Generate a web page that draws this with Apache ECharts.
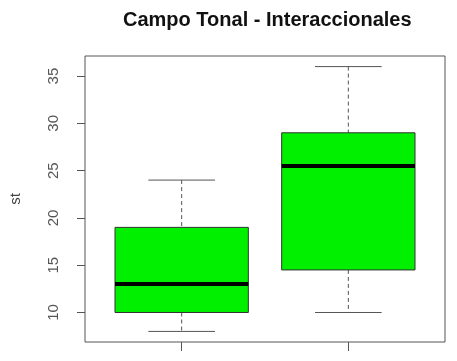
<!DOCTYPE html>
<html>
<head>
<meta charset="utf-8">
<script src="https://cdn.jsdelivr.net/npm/echarts@6/dist/echarts.min.js"></script>
<style>
  html, body { margin: 0; padding: 0; background: #fff; }
  #chart { width: 457px; height: 361px; }
</style>
</head>
<body>
<div id="chart"></div>
<script>
// box positions (R draws groups at 1 and 2)
const positions = [1, 2];
const lowWhisker = [8, 10];
const q1 = [10, 14.5];
const median = [13, 25.5];
const q3 = [19, 29];
const highWhisker = [24, 36];
const yTicks = [10, 15, 20, 25, 30, 35];

const chart = echarts.init(document.getElementById('chart'));

const rows = positions.map((p, i) => [p, lowWhisker[i], q1[i], median[i], q3[i], highWhisker[i]]);

const renderBox = (params, api) => {
  const pos = api.value(0);
  const lo = api.value(1), b1 = api.value(2), md = api.value(3), b3 = api.value(4), hi = api.value(5);
  const half = 0.4, staple = 0.2;
  const pt = (x, y) => api.coord([x, y]);
  const whiskerStyle = { stroke: '#555', lineWidth: 1, lineDash: [4, 3] };
  const stapleStyle = { stroke: '#555', lineWidth: 1 };
  const tl = pt(pos - half, b3), br = pt(pos + half, b1);
  const ml = pt(pos - half, md), mr = pt(pos + half, md);
  const line = (a, b, style) => ({
    type: 'line',
    shape: { x1: a[0], y1: a[1], x2: b[0], y2: b[1] },
    style: style
  });
  return {
    type: 'group',
    children: [
      line(pt(pos, hi), pt(pos, b3), whiskerStyle),
      line(pt(pos, b1), pt(pos, lo), whiskerStyle),
      line(pt(pos - staple, hi), pt(pos + staple, hi), stapleStyle),
      line(pt(pos - staple, lo), pt(pos + staple, lo), stapleStyle),
      {
        type: 'rect',
        shape: { x: tl[0], y: tl[1], width: br[0] - tl[0], height: br[1] - tl[1] },
        style: { fill: '#00f000', stroke: '#333', lineWidth: 1 }
      },
      line(ml, mr, { stroke: '#000', lineWidth: 4 })
    ]
  };
};

const option = {
  animation: false,
  title: {
    text: 'Campo Tonal - Interaccionales',
    left: 118,
    top: 5,
    textStyle: { fontFamily: 'Liberation Sans', fontWeight: 'bold', fontSize: 20, color: '#111' }
  },
  grid: {
    left: 81, right: 12, top: 56, bottom: 19,
    show: true, borderColor: '#555', borderWidth: 1, backgroundColor: 'transparent'
  },
  xAxis: {
    type: 'value',
    min: 0.42,
    max: 2.58,
    axisLine: { show: false },
    splitLine: { show: false },
    axisTick: { show: true, length: 9, lineStyle: { color: '#555' }, customValues: positions },
    axisLabel: { show: false }
  },
  yAxis: {
    type: 'value',
    min: 6.88,
    max: 37.12,
    name: 'st',
    nameLocation: 'middle',
    nameRotate: 90,
    nameGap: 62,
    nameTextStyle: { fontFamily: 'Liberation Sans', fontSize: 15, color: '#444' },
    axisLine: { show: false },
    splitLine: { show: false },
    axisTick: { show: true, length: 8, lineStyle: { color: '#555' }, customValues: yTicks },
    axisLabel: {
      customValues: yTicks,
      rotate: 90,
      margin: 24,
      fontFamily: 'Liberation Sans',
      fontSize: 15,
      color: '#555'
    }
  },
  series: [{
    type: 'custom',
    renderItem: renderBox,
    encode: { x: 0, y: [1, 2, 3, 4, 5] },
    clip: false,
    data: rows
  }]
};

chart.setOption(option);
</script>
</body>
</html>
